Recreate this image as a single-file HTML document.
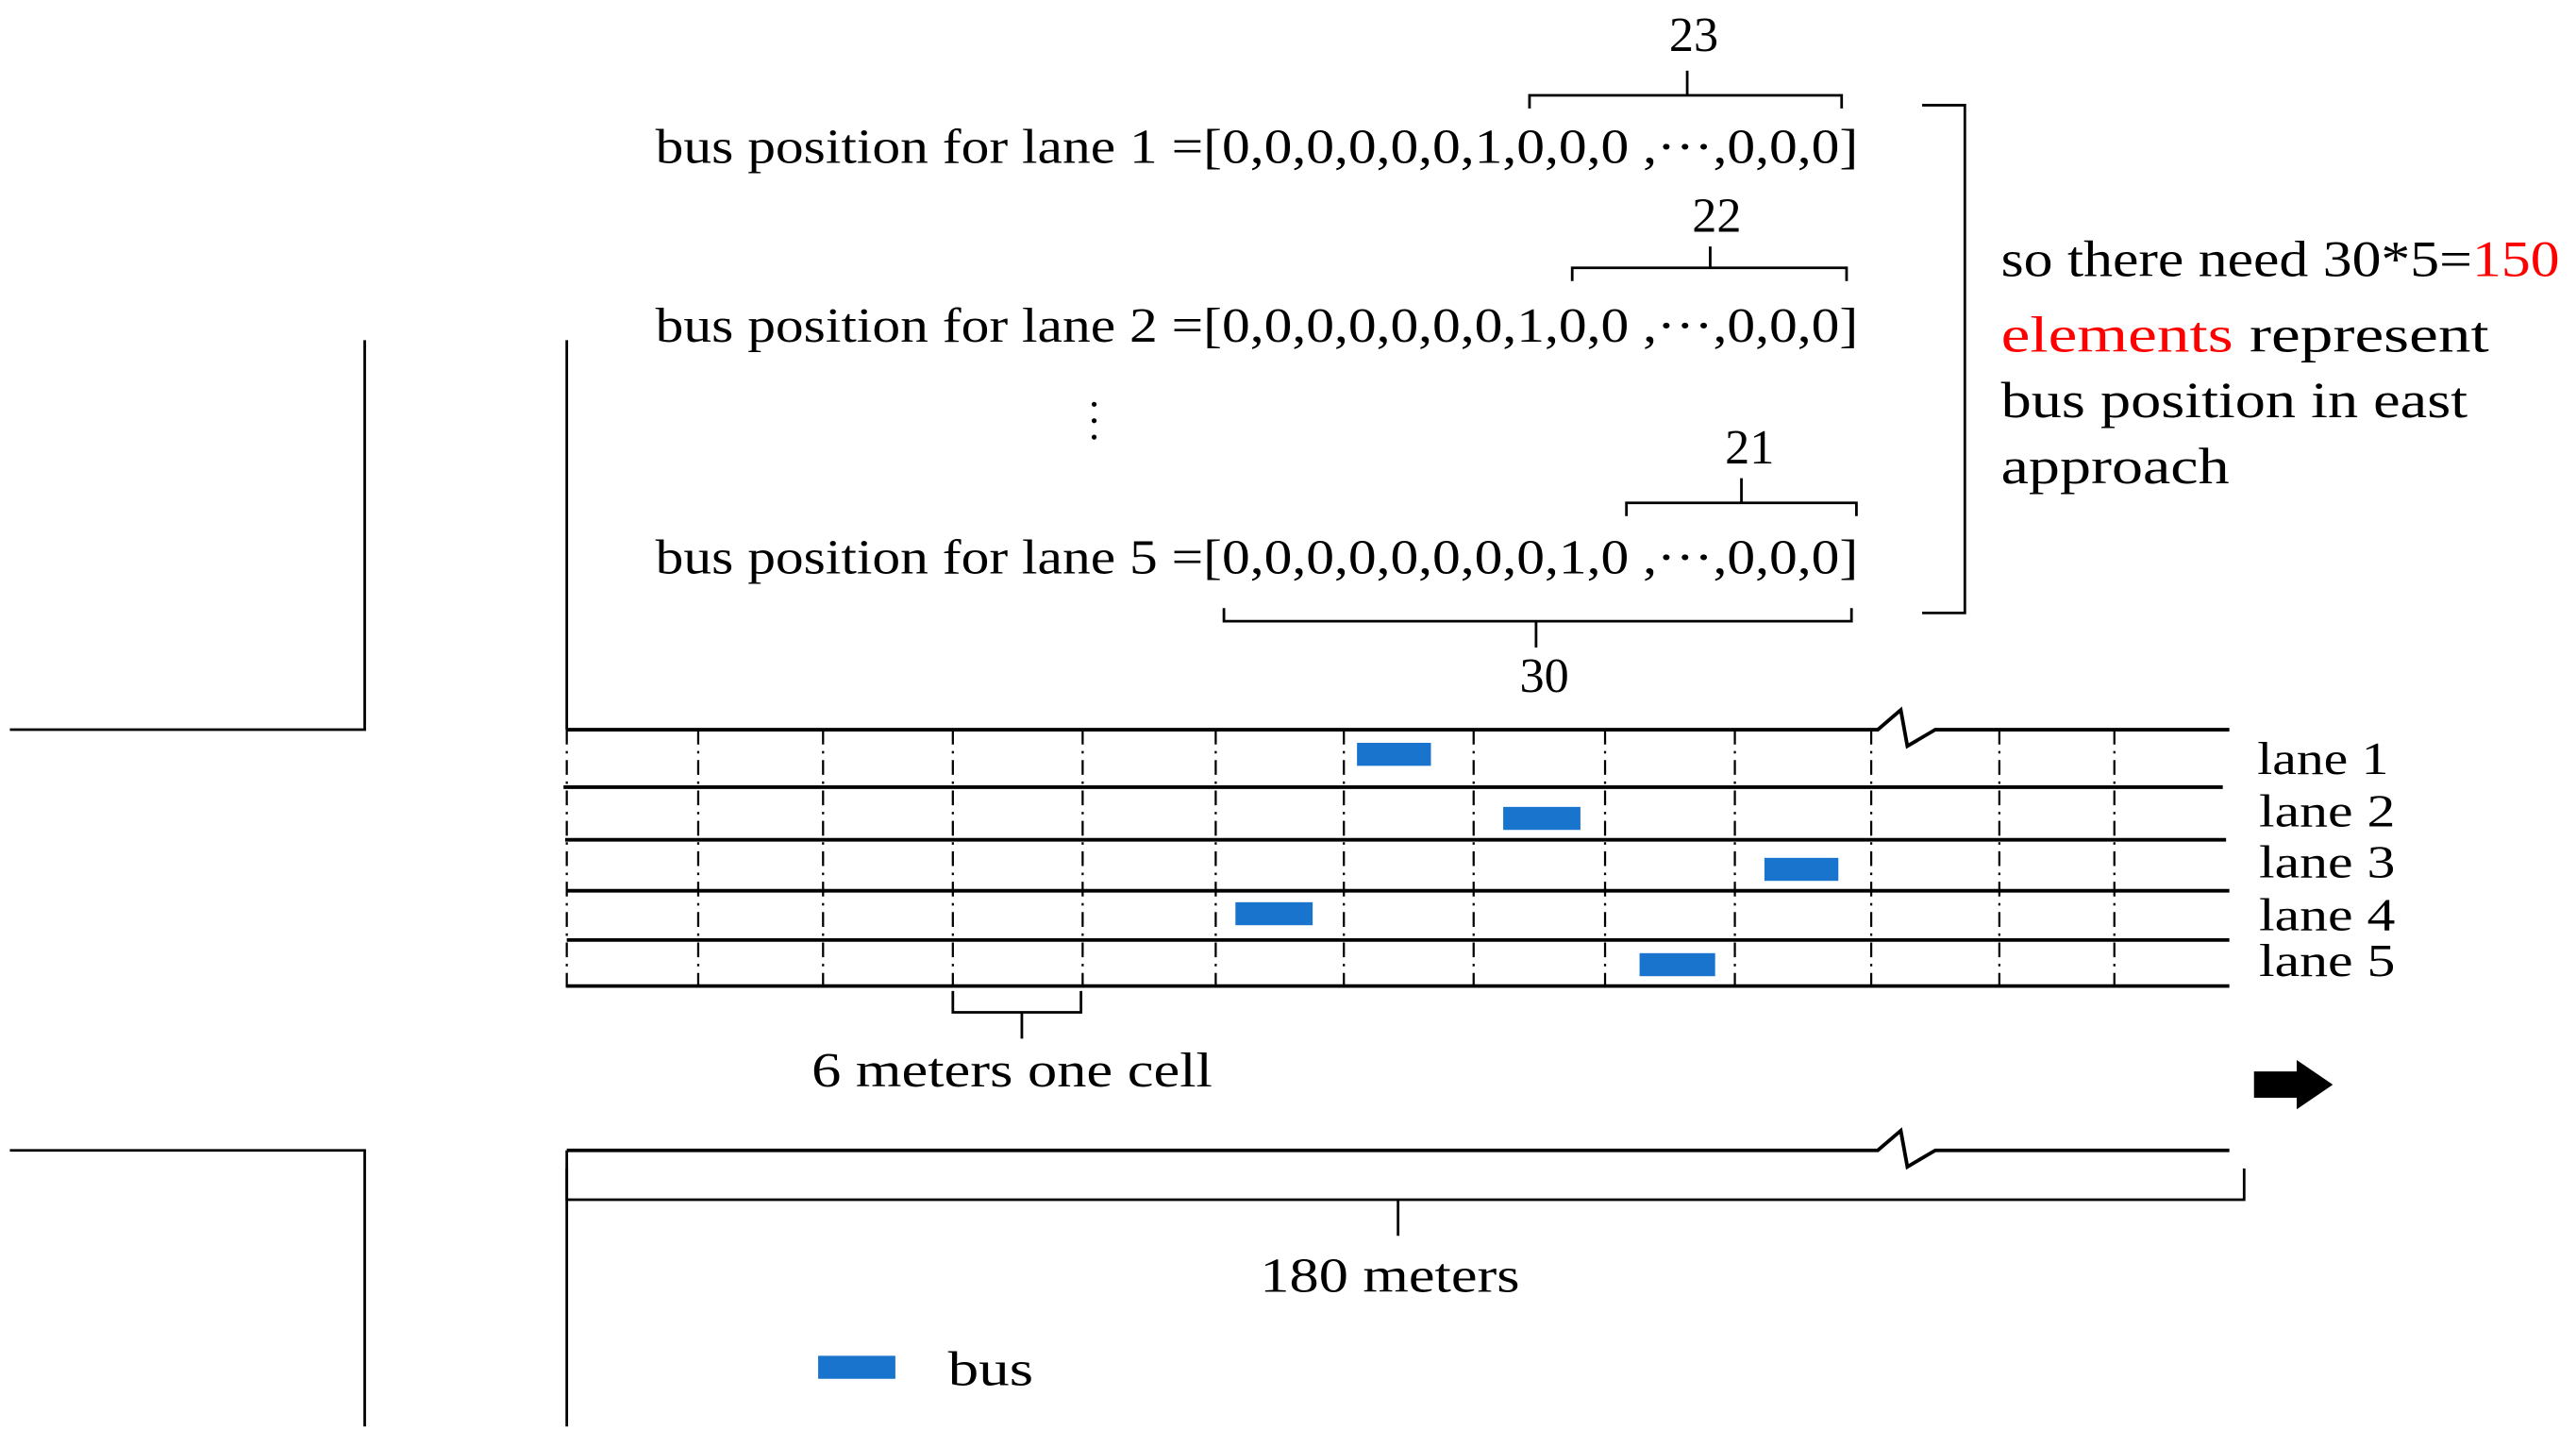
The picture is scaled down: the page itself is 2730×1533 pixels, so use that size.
<!DOCTYPE html>
<html><head><meta charset="utf-8"><style>html,body{margin:0;padding:0;background:#fff}svg{display:block}</style></head>
<body>
<svg width="2730" height="1533" viewBox="0 0 1568 880.5" preserveAspectRatio="none" xmlns="http://www.w3.org/2000/svg" font-family="Liberation Serif, serif">
<rect width="1568" height="880.5" fill="#fff"/>
<g stroke="#000" fill="none" stroke-width="1.6">
<path d="M6 444H222V207"/>
<path d="M6 700H222V868"/>
<path d="M345 207V444"/>
<path d="M345 700V868"/>
</g>
<g stroke="#000" stroke-width="2.2" fill="none">
<path d="M345 444H1143L1157 432L1161 454L1178 444H1357"/>
<path d="M343 479H1353"/>
<path d="M344 511H1355"/>
<path d="M345 542H1357"/>
<path d="M345 572H1357"/>
<path d="M345 600H1357"/>
<path d="M345 700H1143L1157 688L1161 710L1178 700H1357"/>
</g>
<g stroke="#000" stroke-width="1.3" stroke-dasharray="9,4,1.5,4">
<path d="M345 444V604M425 444V600M501 444V600M580 444V600M659 444V600M740 444V600M818 444V600M897 444V600M977 444V600M1056 444V600M1139 444V600M1217 444V600M1287 444V600"/>
</g>
<g fill="#1874cd">
<rect x="826" y="452" width="45" height="14"/>
<rect x="915" y="491" width="47" height="14"/>
<rect x="1074" y="522" width="45" height="14"/>
<rect x="752" y="549" width="47" height="14"/>
<rect x="998" y="580" width="46" height="14"/>
<rect x="498" y="825" width="47" height="14"/>
</g>
<g stroke="#000" stroke-width="1.6" fill="none">
<path d="M580 603V616H658V603M622 616V632"/>
<path d="M345 711V730H1366V711M851 730V752"/>
<path d="M931 66V58H1121V66M1027 58V43"/>
<path d="M957 171V163H1124V171M1041 163V150"/>
<path d="M990 314V306H1130V314M1060 306V291"/>
<path d="M745 370V378H1127V370M935 378V394"/>
<path d="M1170 64H1196V373H1170"/>
</g>
<path d="M1372 652H1398V645L1420 660L1398 675V668H1372Z" fill="#000"/>
<g fill="#000" font-size="30">
<text x="399" y="99" textLength="732" lengthAdjust="spacingAndGlyphs">bus position for lane 1 =[0,0,0,0,0,0,1,0,0,0 ,···,0,0,0]</text>
<text x="399" y="208" textLength="732" lengthAdjust="spacingAndGlyphs">bus position for lane 2 =[0,0,0,0,0,0,0,1,0,0 ,···,0,0,0]</text>
<text x="399" y="349" textLength="732" lengthAdjust="spacingAndGlyphs">bus position for lane 5 =[0,0,0,0,0,0,0,0,1,0 ,···,0,0,0]</text>
<text x="1031" y="31" text-anchor="middle">23</text>
<text x="1045" y="141" text-anchor="middle">22</text>
<text x="1065" y="282" text-anchor="middle">21</text>
<text x="940" y="421" text-anchor="middle">30</text>
<text x="494" y="661" textLength="244" lengthAdjust="spacingAndGlyphs">6 meters one cell</text>
<text x="767" y="786" textLength="158" lengthAdjust="spacingAndGlyphs">180 meters</text>
<text x="577" y="843" textLength="52" lengthAdjust="spacingAndGlyphs">bus</text>
</g>
<g fill="#000">
<circle cx="666" cy="246" r="1.5"/><circle cx="666" cy="256" r="1.5"/><circle cx="666" cy="266" r="1.5"/>
</g>
<g fill="#000" font-size="28">
<text x="1374" y="471" textLength="80" lengthAdjust="spacingAndGlyphs">lane 1</text>
<text x="1375" y="503" textLength="83" lengthAdjust="spacingAndGlyphs">lane 2</text>
<text x="1375" y="534" textLength="83" lengthAdjust="spacingAndGlyphs">lane 3</text>
<text x="1375" y="566" textLength="83" lengthAdjust="spacingAndGlyphs">lane 4</text>
<text x="1375" y="594" textLength="83" lengthAdjust="spacingAndGlyphs">lane 5</text>
</g>
<g font-size="31" fill="#000">
<text x="1218" y="168" textLength="340" lengthAdjust="spacingAndGlyphs">so there need 30*5=<tspan fill="#ff0000">150</tspan></text>
<text x="1218" y="214" textLength="297" lengthAdjust="spacingAndGlyphs"><tspan fill="#ff0000">elements</tspan> represent</text>
<text x="1218" y="254" textLength="284" lengthAdjust="spacingAndGlyphs">bus position in east</text>
<text x="1218" y="294" textLength="139" lengthAdjust="spacingAndGlyphs">approach</text>
</g>
</svg>
</body></html>
